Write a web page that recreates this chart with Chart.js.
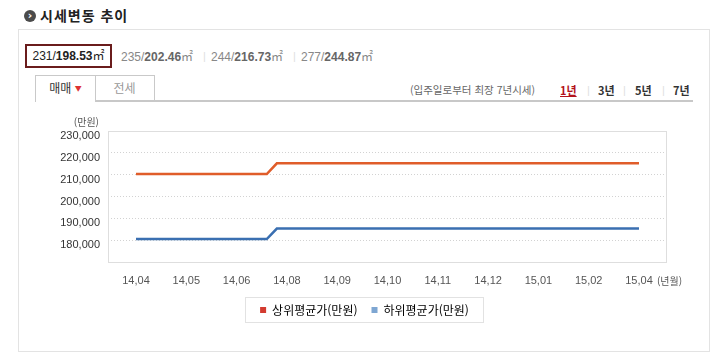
<!DOCTYPE html>
<html lang="ko">
<head>
<meta charset="utf-8">
<title>시세변동 추이</title>
<script src="https://cdn.jsdelivr.net/npm/chart.js@4.4.1/dist/chart.umd.min.js"></script>
<style>
    body {
        margin: 0;
        width: 720px;
        height: 360px;
        position: relative;
        overflow: hidden;
        background: #fff;
        font-family: "Liberation Sans", "Noto Sans CJK KR", sans-serif;
        color: #333;
    }
    .abs { position: absolute; white-space: nowrap; }
    .ko { font-family: "Noto Sans CJK KR", sans-serif; }
    .icon {
        left: 24px; top: 10px; width: 12px; height: 12px;
        border-radius: 50%; background: #4b4b4b;
        color: #fff; font: bold 11px/11px "DejaVu Sans", sans-serif; text-align: center;
    }
    .title { left: 40px; top: 5px; font-size: 14px; line-height: 20px; font-weight: bold; color: #222; letter-spacing: 1px; }
    .outer { left: 18px; top: 29px; width: 690px; height: 321px; border: 1px solid #e3e3e3; }
    .area { top: 50px; font-size: 12px; line-height: 14px; color: #888; }
    .area b { color: #666; }
    .area.on { left: 25px; top: 44px; width: 87px; height: 24px; box-sizing: border-box; border: 2px solid #6a1c1c; color: #222; text-align: center; line-height: 20px; }
    .area.on b { color: #222; }
    .sep { color: #e0e0e0; font-size: 11px; }
    .tab { top: 75px; height: 25px; box-sizing: border-box; border: 1px solid #c9c9c9; background: #fff; text-align: center; font-size: 12px; line-height: 24px; }
    .tab1 { left: 35px; width: 61px; height: 27px; border-bottom: none; color: #333; z-index: 2; }
    .tab2 { left: 95px; width: 60px; border-left: none; border-bottom: none; color: #999; }
    .tab1 span { color: #d33; font-size: 7px; vertical-align: 2px; }
    .baseline { left: 95px; top: 100px; width: 598px; height: 2px; background: #c8c8c8; }
    .period { top: 82px; font-size: 10.5px; line-height: 16px; color: #666; }
    .yr { top: 82px; font-size: 11px; line-height: 16px; font-weight: bold; color: #333; }
    .yr.on { color: #b3121b; text-decoration: underline; }
    #chartBox { left: 20px; top: 108px; width: 690px; height: 218px; }
</style>
</head>
<body>
<div class="abs icon">›</div>
<div class="abs title ko">시세변동 추이</div>
<div class="abs outer"></div>

<div class="abs area on">231/<b>198.53</b>㎡</div>
<div class="abs area" style="left:121px">235/<b>202.46</b>㎡</div>
<div class="abs sep" style="left:203px;top:50px">|</div>
<div class="abs area" style="left:211px">244/<b>216.73</b>㎡</div>
<div class="abs sep" style="left:293px;top:50px">|</div>
<div class="abs area" style="left:301px">277/<b>244.87</b>㎡</div>

<div class="abs tab tab1 ko">매매 <span>▼</span></div>
<div class="abs tab tab2 ko">전세</div>
<div class="abs baseline"></div>

<div class="abs period ko" style="left:410px">(입주일로부터 최장 7년시세)</div>
<div class="abs yr on ko" style="left:560px">1년</div>
<div class="abs sep" style="left:587px;top:84px">|</div>
<div class="abs yr ko" style="left:598px">3년</div>
<div class="abs sep" style="left:623px;top:84px">|</div>
<div class="abs yr ko" style="left:635px">5년</div>
<div class="abs sep" style="left:662px;top:84px">|</div>
<div class="abs yr ko" style="left:673px">7년</div>

<div class="abs" id="chartBox"><canvas id="priceChart"></canvas></div>

<script>
// x축 라벨 (년,월)
const xLabels = ['14,04', '14,05', '14,06', '14,08', '14,09', '14,10', '14,11', '14,12', '15,01', '15,02', '15,04'];
// y축 눈금 (만원)
const yTicks = [180000, 190000, 200000, 210000, 220000, 230000];
// 시세 변동 시점 (x축 라벨 순번 기준)
const pointX = [0, 2.6, 2.8, 10];
const upperValues = [210300, 210300, 215200, 215200];
const lowerValues = [180500, 180500, 185300, 185300];
const seriesNames = ['상위평균가(만원)', '하위평균가(만원)'];

const lineColors = ['#e05d2a', '#3a6fb1'];
const legendColors = ['#d33b30', '#7ea6d2'];
const koFont = '"Noto Sans CJK KR", sans-serif';
const numFont = '"Liberation Sans", "Noto Sans CJK KR", sans-serif';
const legendShift = 21.5;

// 플롯 테두리, 단위 표시, 범례 박스
const framePlugin = {
    id: 'frame',
    afterUpdate(chart) {
        // 범례를 원본처럼 약간 오른쪽으로
        const legend = chart.legend;
        legend.left += legendShift;
        legend.right += legendShift;
        legend.legendHitBoxes.forEach(hb => { hb.left += legendShift; });
    },
    beforeDatasetsDraw(chart) {
        const {ctx, chartArea: a} = chart;
        ctx.save();
        ctx.strokeStyle = '#dedede';
        ctx.lineWidth = 1;
        ctx.strokeRect(Math.round(a.left) + 0.5, Math.round(a.top) + 0.5,
            Math.round(a.right - a.left), Math.round(a.bottom - a.top));
        ctx.restore();
    },
    afterDraw(chart) {
        const {ctx, chartArea: a} = chart;
        const x = chart.scales.x;
        ctx.save();
        ctx.fillStyle = '#555';
        ctx.font = '10px ' + koFont;
        ctx.textBaseline = 'middle';
        ctx.textAlign = 'right';
        ctx.fillText('(만원)', a.left - 9, a.top - 9);
        ctx.textAlign = 'left';
        ctx.fillText('(년월)', x.getPixelForValue(xLabels.length - 1) + 18, a.bottom + 19);

        const hb = chart.legend.legendHitBoxes;
        if (hb && hb.length) {
            const first = hb[0];
            const last = hb[hb.length - 1];
            const left = Math.round(first.left - 15) + 0.5;
            const right = Math.round(last.left + last.width + 14) + 0.5;
            const top = Math.round(first.top - 7) + 0.5;
            const bottom = Math.round(first.top + first.height + 6) + 0.5;
            ctx.strokeStyle = '#e2e2e2';
            ctx.lineWidth = 1;
            ctx.strokeRect(left, top, right - left, bottom - top);
        }
        ctx.restore();
    }
};

const ctx = document.getElementById('priceChart').getContext('2d');

new Chart(ctx, {
    type: 'line',
    data: {
        datasets: [
            {
                label: seriesNames[0],
                data: pointX.map((x, i) => ({x: x, y: upperValues[i]})),
                borderColor: lineColors[0],
                borderWidth: 2.5,
                pointRadius: 0,
                tension: 0,
                fill: false
            },
            {
                label: seriesNames[1],
                data: pointX.map((x, i) => ({x: x, y: lowerValues[i]})),
                borderColor: lineColors[1],
                borderWidth: 2.5,
                pointRadius: 0,
                tension: 0,
                fill: false
            }
        ]
    },
    options: {
        responsive: true,
        maintainAspectRatio: false,
        animation: false,
        layout: {
            padding: {left: 0, right: 44, top: 23, bottom: 0}
        },
        plugins: {
            legend: {
                position: 'bottom',
                labels: {
                    font: {size: 12, family: koFont},
                    color: '#333',
                    boxWidth: 6,
                    boxHeight: 6,
                    padding: 14,
                    generateLabels: (chart) => chart.data.datasets.map((ds, i) => ({
                        text: ds.label,
                        fillStyle: legendColors[i],
                        strokeStyle: legendColors[i],
                        lineWidth: 0,
                        hidden: false,
                        datasetIndex: i
                    }))
                }
            },
            tooltip: {enabled: false}
        },
        scales: {
            x: {
                type: 'linear',
                min: -0.557,
                max: 10.537,
                afterBuildTicks: (scale) => {
                    scale.ticks = xLabels.map((label, i) => ({value: i}));
                },
                afterFit: (scale) => { scale.height = 28; },
                grid: {display: false, drawTicks: false},
                border: {display: false},
                ticks: {
                    callback: (value, index) => xLabels[index],
                    font: {size: 11, family: numFont},
                    color: '#555',
                    padding: 12,
                    maxRotation: 0,
                    autoSkip: false
                }
            },
            y: {
                min: 170000,
                max: 230000,
                afterBuildTicks: (scale) => {
                    scale.ticks = yTicks.map(v => ({value: v}));
                },
                afterFit: (scale) => { scale.width = 88; },
                grid: {
                    drawTicks: false,
                    color: (c) => c.tick && c.tick.value === 230000 ? 'rgba(0,0,0,0)' : '#d2d2d2'
                },
                border: {display: false, dash: [1, 2]},
                ticks: {
                    callback: (value) => value.toLocaleString('en-US'),
                    font: {size: 11, family: numFont},
                    color: '#333',
                    padding: 8,
                    labelOffset: 5
                }
            }
        }
    },
    plugins: [framePlugin]
});
</script>
</body>
</html>
